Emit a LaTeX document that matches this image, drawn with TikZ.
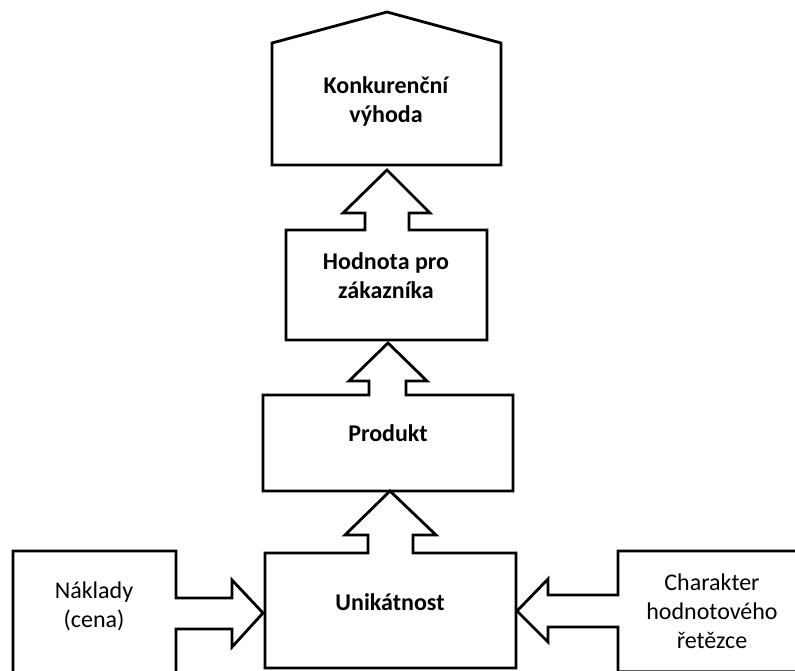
\documentclass[tikz,border=0pt]{standalone}
\usepackage{fontspec}
\setmainfont{Carlito}
\begin{document}
\begin{tikzpicture}[x=1pt,y=-1pt,
  shapeline/.style={draw=black,line width=2.8pt,fill=white,line join=miter},
  maintext/.style={font=\fontsize{24}{29}\selectfont\bfseries,align=center,inner sep=0pt},
  sidetext/.style={font=\fontsize{24}{29}\selectfont,align=center,inner sep=0pt}]
\useasboundingbox (0,0) rectangle (795,670);
\clip (0,0) rectangle (795,670);

% Konkurencni vyhoda (pentagon)
\draw[shapeline] (272,165) -- (272,43) -- (387,12) -- (501,43) -- (501,165) -- cycle;

% Hodnota pro zakaznika callout
\draw[shapeline] (286,340) -- (286,230) -- (365,230) -- (365,213) -- (343,213) -- (387,170)
  -- (430,213) -- (409,213) -- (409,230) -- (487,230) -- (487,340) -- cycle;

% Produkt callout
\draw[shapeline] (263,491) -- (263,395) -- (369,395) -- (369,381) -- (349,381) -- (388,343)
  -- (427,381) -- (406,381) -- (406,395) -- (513,395) -- (513,491) -- cycle;

% Unikatnost callout
\draw[shapeline] (265,668) -- (265,553) -- (368,553) -- (368,535) -- (345,535) -- (390,491)
  -- (436,535) -- (413,535) -- (413,553) -- (516,553) -- (516,668) -- cycle;

% Naklady callout (left)
\draw[shapeline] (13,700) -- (13,551) -- (176,551) -- (176,598) -- (232,598) -- (232,580)
  -- (263,613) -- (232,647) -- (232,629) -- (176,629) -- (176,700);

% Charakter callout (right)
\draw[shapeline] (618,671.8) -- (618,627) -- (548,627) -- (548,642) -- (517,611) -- (548,579)
  -- (548,595) -- (618,595) -- (618,551) -- (830,551) -- (830,671.8) -- cycle;

% texts
\node[maintext] (konk) at (386,101) {Konkurenční\\výhoda};
\node[maintext] (hodn) at (386,276) {Hodnota pro\\zákazníka};
\node[maintext] (prod) at (388,433) {Produkt};
\node[maintext] (unik) at (390,602) {Unikátnost};
\node[sidetext] (nakl) at (94,606) {Náklady\\(cena)};
\node[sidetext] (char) at (712,611) {Charakter\\hodnotového\\řetězce};
\end{tikzpicture}
\end{document}
